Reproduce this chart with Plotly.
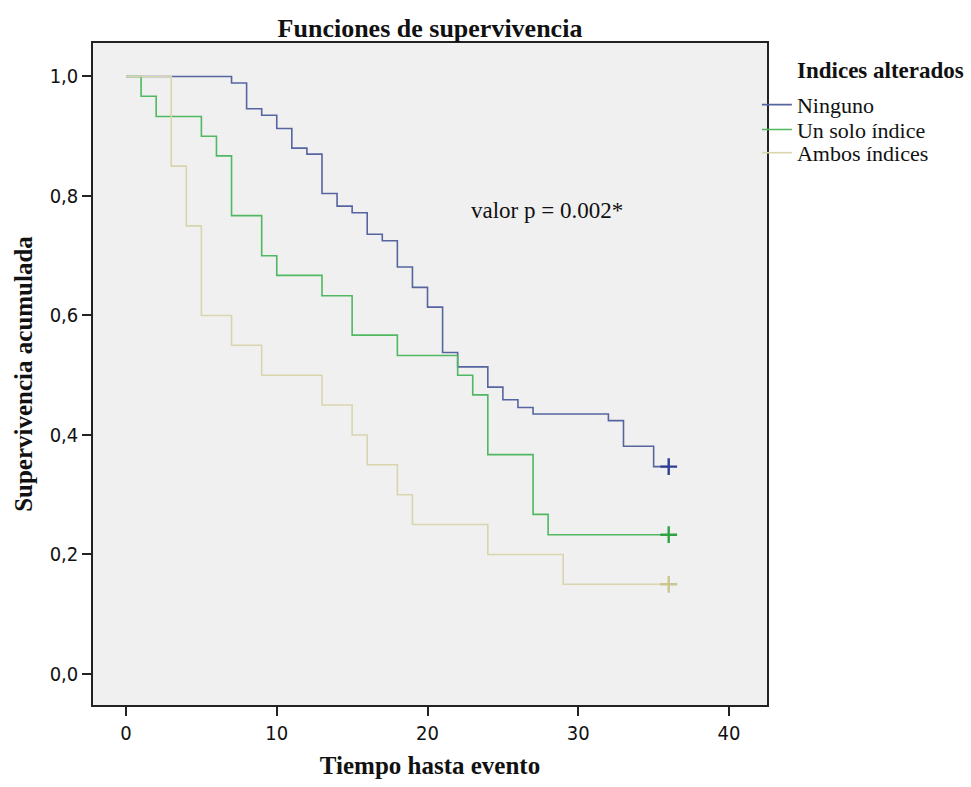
import plotly.graph_objects as go

# ---- data ----
ninguno_t = [0, 7, 8, 9, 10, 11, 12, 13, 14, 15, 16, 17, 18, 19, 20, 21, 22, 24, 25, 26, 27, 32, 33, 35, 36]
ninguno_s = [1.0, 0.989, 0.946, 0.935, 0.913, 0.880, 0.870, 0.804, 0.783, 0.772, 0.736, 0.725, 0.681,
             0.647, 0.614, 0.538, 0.514, 0.480, 0.459, 0.446, 0.435, 0.424, 0.381, 0.347, 0.347]

unsolo_t = [0, 1, 2, 5, 6, 7, 9, 10, 13, 15, 18, 22, 23, 24, 27, 28, 36]
unsolo_s = [1.0, 0.967, 0.933, 0.900, 0.867, 0.767, 0.700, 0.667, 0.633, 0.567, 0.533, 0.500, 0.467,
            0.367, 0.267, 0.233, 0.233]

ambos_t = [0, 3, 4, 5, 7, 9, 13, 15, 16, 18, 19, 24, 29, 36]
ambos_s = [1.0, 0.85, 0.75, 0.60, 0.55, 0.50, 0.45, 0.40, 0.35, 0.30, 0.25, 0.20, 0.15, 0.15]

series_names = ["Ninguno", "Un solo índice", "Ambos índices"]
censor_t = [36, 36, 36]
censor_s = [0.347, 0.233, 0.15]

x_ticks = [0, 10, 20, 30, 40]
y_ticks = [0.0, 0.2, 0.4, 0.6, 0.8, 1.0]
y_ticklabels = ["0,0", "0,2", "0,4", "0,6", "0,8", "1,0"]

line_colors = ["#56649f", "#4fb860", "#d9d5ad"]
mark_colors = ["#2f3f94", "#2ea346", "#cbc58e"]

serif = "Liberation Serif, Times New Roman, serif"
narrow = "Liberation Sans Narrow, DejaVu Sans Condensed, Arial Narrow, sans-serif"

fig = go.Figure()
all_t = [ninguno_t, unsolo_t, ambos_t]
all_s = [ninguno_s, unsolo_s, ambos_s]
legend_ids = ["legend", "legend2", "legend3"]
for i in range(3):
    fig.add_trace(go.Scatter(
        x=all_t[i], y=all_s[i], mode="lines", line=dict(shape="hv", color=line_colors[i], width=1.6),
        name=series_names[i], showlegend=True, legend=legend_ids[i]))
for i in range(3):
    fig.add_trace(go.Scatter(
        x=[censor_t[i]], y=[censor_s[i]], mode="markers",
        marker=dict(symbol="cross-thin", size=12, line=dict(color=mark_colors[i], width=2.4)),
        showlegend=False, hoverinfo="skip"))

fig.add_annotation(x=27.9, y=0.776, xref="x", yref="y", text="valor p = 0.002*", showarrow=False,
                   font=dict(family=serif, size=23, color="#111"))
fig.add_annotation(x=1.0415, y=0.959, xref="paper", yref="paper", xanchor="left", yanchor="middle",
                   text="<b>Indices alterados</b>", showarrow=False,
                   font=dict(family=serif, size=23, color="#111"))

leg_font = dict(family=serif, size=22, color="#111")
leg_common = dict(x=0.985, xanchor="left", yanchor="middle", bgcolor="rgba(0,0,0,0)",
                  font=leg_font, itemwidth=30, borderwidth=0)

fig.update_layout(
    width=971, height=787,
    margin=dict(l=93, r=204, t=43, b=80),
    paper_bgcolor="white", plot_bgcolor="#f0f0f0",
    title=dict(text="<b>Funciones de supervivencia</b>", x=0.5, xref="paper", xanchor="center",
               y=1 - 28 / 787, yanchor="middle", font=dict(family=serif, size=26, color="#111")),
    legend=dict(y=0.9066, **leg_common),
    legend2=dict(y=0.869, **leg_common),
    legend3=dict(y=0.834, **leg_common),
    xaxis=dict(range=[-2.19, 42.52], tickvals=x_ticks, ticks="outside", ticklen=9, tickwidth=1.5,
               tickcolor="#222", showgrid=False, zeroline=False, showline=True, mirror=True,
               linecolor="#222", linewidth=1.5,
               tickfont=dict(family=narrow, size=20, color="#111"),
               title=dict(text="<b>Tiempo hasta evento</b>", standoff=13,
                          font=dict(family=serif, size=25, color="#111"))),
    yaxis=dict(range=[-0.052, 1.056], tickvals=y_ticks, ticktext=y_ticklabels, ticks="outside",
               ticklen=9, tickwidth=1.5, tickcolor="#222", showgrid=False, zeroline=False,
               showline=True, mirror=True, linecolor="#222", linewidth=1.5,
               tickfont=dict(family=narrow, size=20, color="#111"),
               title=dict(text="<b>Supervivencia acumulada</b>", standoff=10,
                          font=dict(family=serif, size=25, color="#111"))),
)

fig.write_html("out.html")
